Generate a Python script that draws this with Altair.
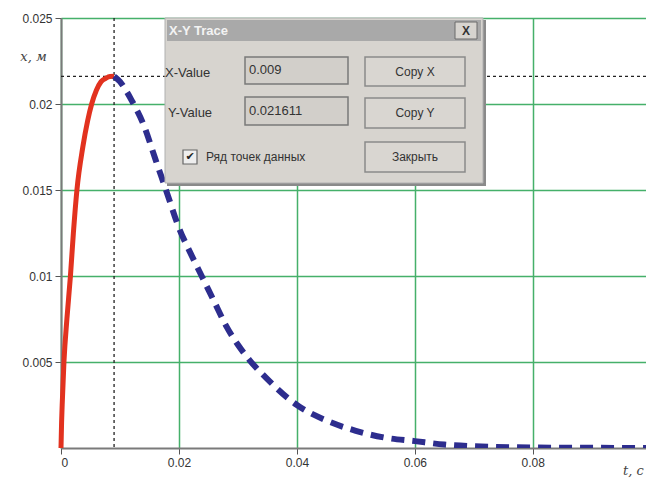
import altair as alt
import pandas as pd

# ---- data ----
red_t = [0, 0.0001, 0.0002, 0.0005, 0.001, 0.0016, 0.0021, 0.0027, 0.0037, 0.0045,
         0.0052, 0.006, 0.0068, 0.0076, 0.0083, 0.009]
red_x = [0, 0.0015, 0.0025, 0.005, 0.0075, 0.010, 0.0125, 0.015, 0.0175, 0.0190,
         0.0200, 0.0208, 0.0213, 0.0215, 0.0216, 0.021611]

blue_t = [0.009, 0.010, 0.011, 0.012, 0.014, 0.016, 0.018, 0.020, 0.022, 0.024, 0.026,
          0.028, 0.030, 0.032, 0.035, 0.040, 0.045, 0.050, 0.055, 0.060, 0.065, 0.070,
          0.080, 0.090, 0.100]
blue_x = [0.021611, 0.0213, 0.0208, 0.0202, 0.0188, 0.0168, 0.0148, 0.0128, 0.0113,
          0.0099, 0.0085, 0.0071, 0.0060, 0.0051, 0.0040, 0.0025, 0.0016, 0.0010,
          0.0006, 0.0004, 0.0002, 0.0001, 0.00003, 0.00001, 0.0]

trace_t = [0.009]
trace_x = [0.021611]

x_ticks = [0, 0.02, 0.04, 0.06, 0.08]
y_ticks = [0.005, 0.01, 0.015, 0.02, 0.025]

W, H = 585, 430
XDOM = [0, 0.0992]
YDOM = [0, 0.025]

red_df = pd.DataFrame({"t": red_t, "x": red_x})
blue_df = pd.DataFrame({"t": blue_t, "x": blue_x})
tr_df = pd.DataFrame({"t": trace_t, "x": trace_x})

xs = alt.Scale(domain=XDOM, nice=False, zero=False)
ys = alt.Scale(domain=YDOM, nice=False, zero=False)

xax = alt.Axis(values=x_ticks, labelExpr="datum.value + ''", grid=True,
               gridColor="#45b06a", gridWidth=1.5, domainColor="#7a7a7a", domainWidth=2,
               tickColor="#555555", tickSize=6, labelFont="Liberation Sans", labelFontSize=12,
               labelColor="#333333", labelPadding=3, title="t, c", titleFont="DejaVu Serif",
               titleFontStyle="italic", titleFontWeight="normal", titleFontSize=13,
               titleColor="#444444", titleX=572, titleY=22, titleAlign="center",
               titleBaseline="middle")
yax = alt.Axis(values=y_ticks, labelExpr="datum.value + ''", grid=True,
               gridColor="#45b06a", gridWidth=1.5, domainColor="#7a7a7a", domainWidth=2,
               tickColor="#555555", tickSize=6, labelFont="Liberation Sans", labelFontSize=12,
               labelColor="#333333", labelPadding=3, title="x, м", titleFont="DejaVu Serif",
               titleFontStyle="italic", titleFontWeight="normal", titleFontSize=13,
               titleColor="#444444", titleAngle=0, titleX=-28, titleY=38,
               titleAlign="center", titleBaseline="middle")

base_axes = alt.Chart(red_df).mark_line(opacity=0).encode(
    x=alt.X("t:Q", scale=xs, axis=xax),
    y=alt.Y("x:Q", scale=ys, axis=yax),
)

vrule = alt.Chart(tr_df).mark_rule(color="#222222", strokeDash=[3, 3], strokeWidth=1.3).encode(
    x=alt.X("t:Q", scale=xs), y=alt.value(0), y2=alt.value(H))
hrule = alt.Chart(tr_df).mark_rule(color="#222222", strokeDash=[3, 3], strokeWidth=1.3).encode(
    y=alt.Y("x:Q", scale=ys), x=alt.value(0), x2=alt.value(W))

red = alt.Chart(red_df).mark_line(color="#e2321f", strokeWidth=5, interpolate="monotone").encode(
    x=alt.X("t:Q", scale=xs), y=alt.Y("x:Q", scale=ys))
blue = alt.Chart(blue_df).mark_line(color="#2d2d8e", strokeWidth=6, strokeDash=[13, 8],
                                    interpolate="monotone", clip=True).encode(
    x=alt.X("t:Q", scale=xs), y=alt.Y("x:Q", scale=ys))

# ---- "X-Y Trace" dialog decoration (pixel positions relative to plot area) ----
one = alt.Data(values=[{}])


def box(x1, x2, y1, y2, fill, stroke=None, sw=1.0):
    kw = dict(fill=fill)
    if stroke:
        kw.update(stroke=stroke, strokeWidth=sw)
    return alt.Chart(one).mark_rect(**kw).encode(
        x=alt.value(x1), x2=alt.value(x2), y=alt.value(y1), y2=alt.value(y2))


def label(x, y, txt, size=12, align="left", weight="normal", color="#333333",
          font="Liberation Sans"):
    return alt.Chart(one).mark_text(align=align, baseline="middle", fontSize=size,
                                    fontWeight=weight, color=color, font=font).encode(
        x=alt.value(x), y=alt.value(y), text=alt.value(txt))


dlg = [
    box(106, 425, 2, 168, "#8a8a8a"),             # shadow
    box(104, 422, 0, 165, "#d7d4cf", "#b0b0b0"),
    box(106, 420, 2, 23, "#a9a9a9"),              # title bar
    label(108, 12.5, "X-Y Trace", size=13, weight="bold", color="#f3f3f3"),
    box(394, 416, 4, 21, "#d7d4cf", "#6a6a6a"),   # close button
    label(405, 12.5, "X", size=12, align="center", weight="bold", color="#333333"),
    label(104, 55, "X-Value", size=13),
    label(107, 95, "Y-Value", size=13),
    box(184, 287, 39, 66, "#d2cfca", "#7a7a7a", 1.5),
    box(184, 287, 79, 107, "#d2cfca", "#7a7a7a", 1.5),
    label(188, 52, "{:g}".format(trace_t[0]), size=13),
    label(188, 93, "{:g}".format(trace_x[0]), size=13),
    box(304, 404, 39, 68, "#d9d6d1", "#8a8a8a", 1.5),
    box(304, 404, 80, 110, "#d9d6d1", "#8a8a8a", 1.5),
    box(304, 404, 124, 154, "#d9d6d1", "#8a8a8a", 1.5),
    label(354, 53.5, "Copy X", size=12, align="center"),
    label(354, 95, "Copy Y", size=12, align="center"),
    label(354, 139, "Закрыть", size=12, align="center"),
    box(122, 136, 132, 146, "#eeeeee", "#666666", 1.2),
    label(129, 139, "✔", size=11, align="center", color="#222222", font="DejaVu Sans"),
    label(145, 139, "Ряд точек данных", size=12),
]

chart = alt.layer(base_axes, vrule, hrule, red, blue, *dlg).properties(
    width=W, height=H,
    autosize=alt.AutoSizeParams(type="none"),
    padding={"left": 53, "top": 10, "right": 0, "bottom": 32},
    background="white",
).configure_view(stroke=None)

chart.save("out.html", embed_options={"renderer": "svg", "actions": False})
